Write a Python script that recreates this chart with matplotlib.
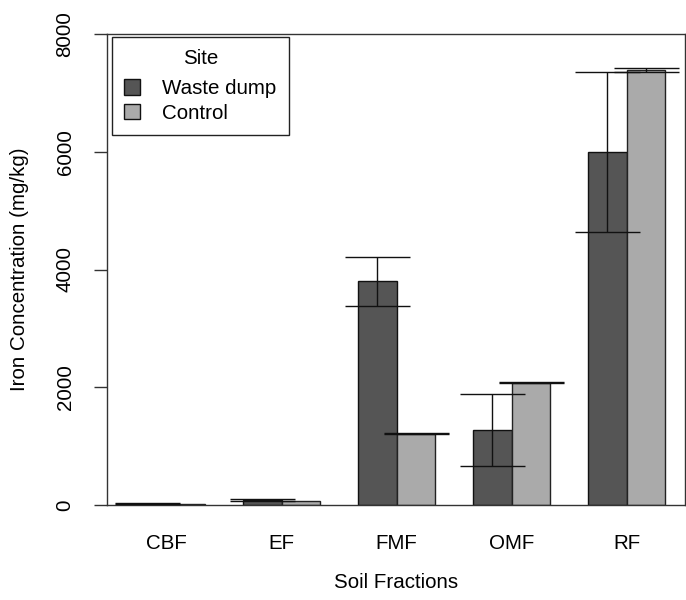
"""Barplot de concentracao de ferro por fracao do solo (waste dump x control)."""
import matplotlib
matplotlib.use("Agg")
import matplotlib.pyplot as plt
import numpy as np
from matplotlib.patches import Patch

plt.rcParams["font.family"] = ["Liberation Sans", "DejaVu Sans"]

fracoes = ["CBF", "EF", "FMF", "OMF", "RF"]
waste_dump = [25, 80, 3800, 1280, 6000]
controle = [15, 75, 1210, 2075, 7390]
erro_waste = [12, 15, 415, 610, 1360]
erro_controle = [0, 0, 5, 8, 30]

COR_WASTE = "#555555"
COR_CONTROLE = "#AAAAAA"
FONTE = 14.8

fig = plt.figure(figsize=(6.86, 6.0), dpi=100)
ax = fig.add_axes([107 / 686, 95 / 600, 578 / 686, 471 / 600])

x = np.arange(len(fracoes))
largura = 0.335
xw = x - largura / 2
xc = x + largura / 2

ax.bar(xw, waste_dump, largura, color=COR_WASTE, edgecolor="#111111", linewidth=1.0, zorder=2)
ax.bar(xc, controle, largura, color=COR_CONTROLE, edgecolor="#222222", linewidth=1.0, zorder=2)

# como no R: setas de comprimento zero nao sao desenhadas
for pos, val, err in [(xw, waste_dump, erro_waste), (xc, controle, erro_controle)]:
    pos = np.asarray(pos)
    val = np.asarray(val, dtype=float)
    err = np.asarray(err, dtype=float)
    m = err > 0
    ax.errorbar(pos[m], val[m], yerr=err[m], fmt="none", ecolor="#111111",
                elinewidth=1.0, capsize=23.4, capthick=1.0, zorder=3)

ax.set_xlim(-0.519, 4.507)
ax.set_ylim(0, 8000)
ax.set_yticks([0, 2000, 4000, 6000, 8000])
ax.set_xticks(x)
ax.set_xticklabels(fracoes, fontsize=FONTE)
ax.tick_params(axis="x", length=0, pad=21)
ax.tick_params(axis="y", length=9.4, width=1.0, color="#333333", pad=14, labelsize=FONTE)
for lab in ax.get_yticklabels():
    lab.set_rotation(90)
    lab.set_va("center")

for s in ax.spines.values():
    s.set_color("#333333")
    s.set_linewidth(1.0)

ax.set_xlabel("Soil Fractions", fontsize=FONTE, labelpad=14.5)
ax.set_ylabel("Iron Concentration (mg/kg)", fontsize=FONTE, labelpad=19)

handles = [
    Patch(facecolor=COR_WASTE, edgecolor="#111111", linewidth=1.0, label="Waste dump"),
    Patch(facecolor=COR_CONTROLE, edgecolor="#111111", linewidth=1.0, label="Control"),
]
leg = ax.legend(handles=handles, title="Site", loc="upper left",
                bbox_to_anchor=(5 / 578, 1 - 3 / 471), fontsize=FONTE,
                title_fontsize=FONTE, frameon=True, fancybox=False,
                edgecolor="#222222", handlelength=0.75, handleheight=0.75,
                handletextpad=1.1, borderpad=0.6, labelspacing=0.28,
                borderaxespad=0)
leg._legend_box.sep = 7.8
leg.get_frame().set_linewidth(1.0)
leg.get_frame().set_alpha(1)

fig.savefig("out.png", dpi=100)
